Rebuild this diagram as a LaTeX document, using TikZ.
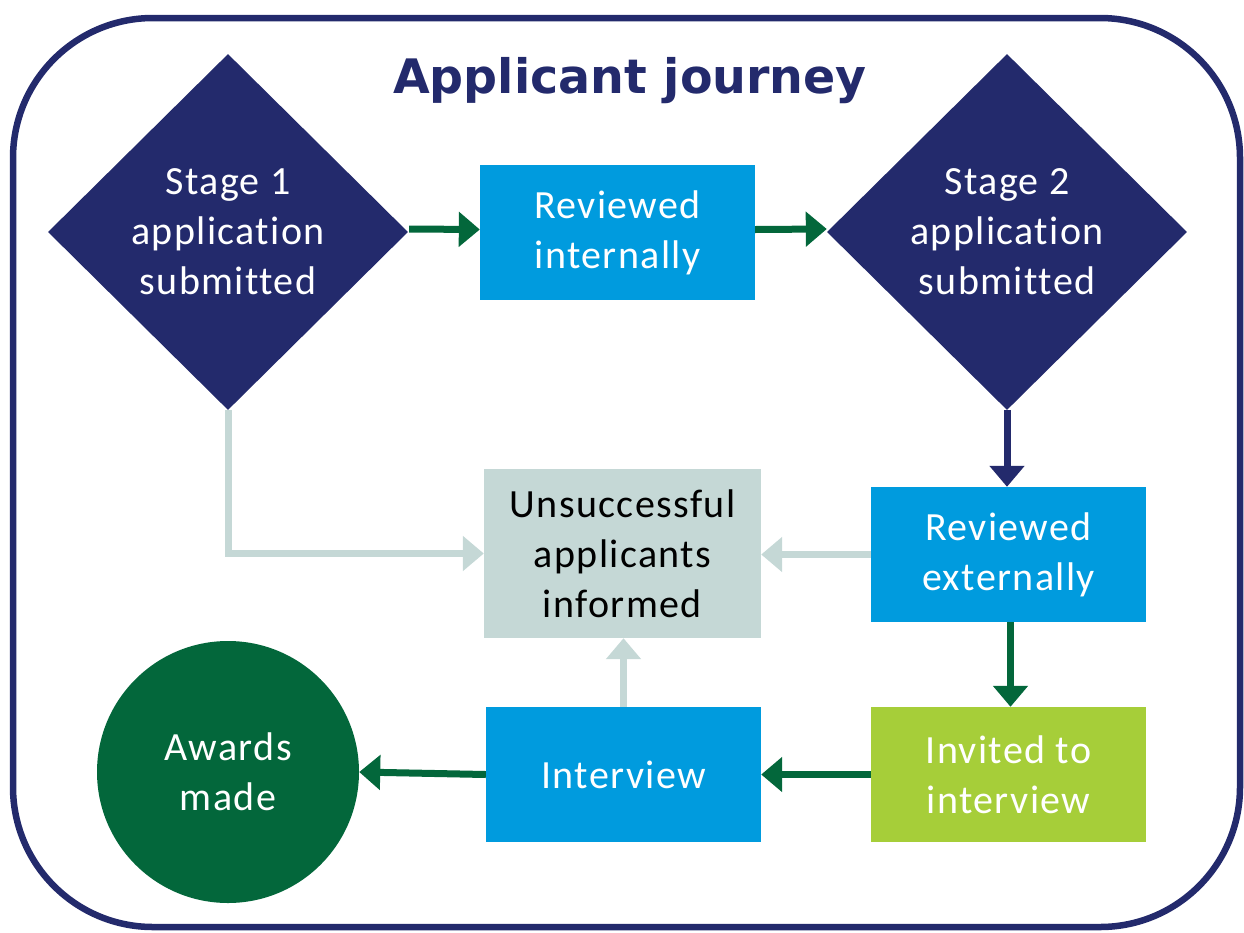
\documentclass[tikz,border=0pt]{standalone}
\usepackage{fontspec}
\setmainfont[Ligatures=NoCommon, LetterSpace=3.5]{Carlito}
\newfontfamily\titlefont{DejaVu Sans}
\usetikzlibrary{shapes.geometric,arrows.meta}
\definecolor{navy}{RGB}{35,42,108}
\definecolor{skyblue}{RGB}{0,155,222}
\definecolor{greygreen}{RGB}{197,216,214}
\definecolor{lime}{RGB}{166,206,57}
\definecolor{darkgreen}{RGB}{3,103,59}
\begin{document}
\begin{tikzpicture}[x=1pt,y=-1pt,
  txt/.style={font=\fontsize{40}{50}\selectfont, align=center, text=white, inner sep=0pt},
  boxnode/.style={rectangle, minimum width=275pt, minimum height=135pt, inner sep=0pt, txt},
  dia/.style={diamond, fill=navy, minimum width=360pt, minimum height=356pt, inner sep=0pt},
  arr/.style={line width=7pt, -{Triangle[width=34pt,length=21pt]}},
  garr/.style={arr, draw=darkgreen},
  narr/.style={arr, draw=navy},
  larr/.style={arr, draw=greygreen}]
\useasboundingbox (0,0) rectangle (1244,932);
\draw[navy, line width=6.5pt, rounded corners=140pt] (13,18) rectangle (1240,927);
\node[anchor=base, font=\titlefont\bfseries\fontsize{47.5}{56}\selectfont, text=navy, inner sep=0pt] (title) at (630,93) {Applicant journey};

\node[dia] (d1) at (228,232) {};
\node[txt] (d1t) at (228,232) {Stage 1\\application\\submitted};
\node[dia] (d2) at (1007,232) {};
\node[txt] (d2t) at (1007,232) {Stage 2\\application\\submitted};

\node[boxnode, fill=skyblue] (ri) at (617.5,232.5) {Reviewed\\internally};
\node[boxnode, fill=skyblue] (re) at (1008.5,554.5) {Reviewed\\externally};
\node[boxnode, fill=greygreen, text=black, minimum width=277pt, minimum height=169pt] (un) at (622.5,553.5) {Unsuccessful\\applicants\\informed};
\node[boxnode, fill=lime] (inv) at (1008.5,774.5) {Invited to\\interview};
\node[boxnode, fill=skyblue] (int) at (623.5,774.5) {Interview};
\node[circle, fill=darkgreen, minimum size=262pt, inner sep=0pt, txt] (aw) at (228,772) {Awards\\made};

\draw[garr] ([xshift=1pt,yshift=3pt]d1.east) -- ([yshift=3pt]ri.west);
\draw[garr] ([yshift=3pt]ri.east) -- ([yshift=3pt]d2.west);
\draw[narr] (d2.south) -- (d2.south |- re.north);
\draw[garr] ([xshift=2pt]re.south) -- ([xshift=2pt]inv.north);
\draw[garr] (inv.west) -- (int.west -| int.east);
\draw[garr] (int.west) -- (aw.east);
\draw[larr] (int.north) -- (int.north |- un.south);
\draw[larr] (re.west) -- (re.west -| un.east);
\draw[larr] (d1.south) |- (un.west);
\end{tikzpicture}
\end{document}
